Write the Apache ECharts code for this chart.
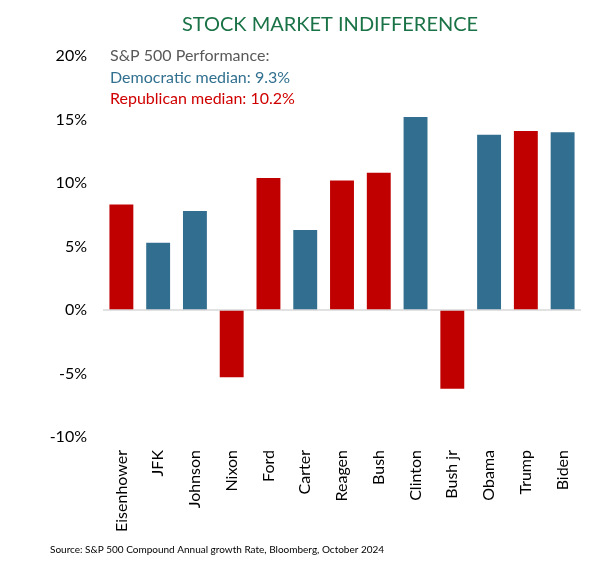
<!DOCTYPE html>
<html>
<head>
<meta charset="utf-8">
<script src="https://cdn.jsdelivr.net/npm/echarts@6/dist/echarts.min.js"></script>
<style>
html,body{margin:0;padding:0;background:#fff;}
#chart{width:607px;height:570px;}
</style>
</head>
<body>
<div id="chart"></div>
<script>
var presidents = ['Eisenhower','JFK','Johnson','Nixon','Ford','Carter','Reagen','Bush','Clinton','Bush jr','Obama','Trump','Biden'];
var parties = ['R','D','D','R','R','D','R','R','D','R','D','R','D'];
var returns = [8.3, 5.3, 7.8, -5.3, 10.4, 6.3, 10.2, 10.8, 15.2, -6.2, 13.8, 14.1, 14.0];
var yTicks = [-10, -5, 0, 5, 10, 15, 20];
var demMedian = '9.3%';
var repMedian = '10.2%';

var RED = '#C00000', BLUE = '#316E8F';
var FONT = 'Lato';

var chart = echarts.init(document.getElementById('chart'), null, {renderer:'canvas'});
chart.setOption({
  animation:false,
  title:{
    text:'STOCK MARKET INDIFFERENCE',
    left:325, top:10, textAlign:'center',
    textStyle:{color:'#1A7346', fontFamily:FONT, fontSize:20, fontWeight:'normal'}
  },
  grid:{left:103, right:26, top:56, bottom:133},
  xAxis:{
    type:'category', data:presidents,
    axisLine:{show:false, onZero:false}, axisTick:{show:false},
    axisLabel:{rotate:90, margin:13, color:'#000', fontFamily:FONT, fontSize:16, interval:0}
  },
  yAxis:{
    type:'value', min:yTicks[0], max:yTicks[yTicks.length-1], interval:5,
    splitLine:{show:false}, axisLine:{show:false}, axisTick:{show:false},
    axisLabel:{formatter:'{value}%', margin:16, color:'#000', fontFamily:FONT, fontSize:16}
  },
  series:[{
    type:'bar', barWidth:'65%',
    data:returns.map(function(v,i){return {value:v, itemStyle:{color: parties[i]==='R'?RED:BLUE}};}),
    markLine:{
      silent:true, symbol:['none','none'], label:{show:false},
      lineStyle:{color:'#D9D9D9', type:'solid', width:1.5},
      data:[{yAxis:0}]
    }
  }],
  graphic:[{
    type:'text', left:110, top:48,
    style:{
      text:'{a|S&P 500 Performance:}\n{b|Democratic median: '+demMedian+'}\n{c|Republican median: '+repMedian+'}',
      rich:{
        a:{fill:'#595959', fontFamily:FONT, fontSize:16, lineHeight:21.5},
        b:{fill:'#31708F', fontFamily:FONT, fontSize:16, lineHeight:21.5},
        c:{fill:'#D00000', fontFamily:FONT, fontSize:16, lineHeight:21.5}
      }
    }
  },{
    type:'text', left:50, top:545,
    style:{text:'Source: S&P 500 Compound Annual growth Rate, Bloomberg, October 2024', fill:'#000', fontFamily:FONT, fontSize:10}
  }]
});
</script>
</body>
</html>
